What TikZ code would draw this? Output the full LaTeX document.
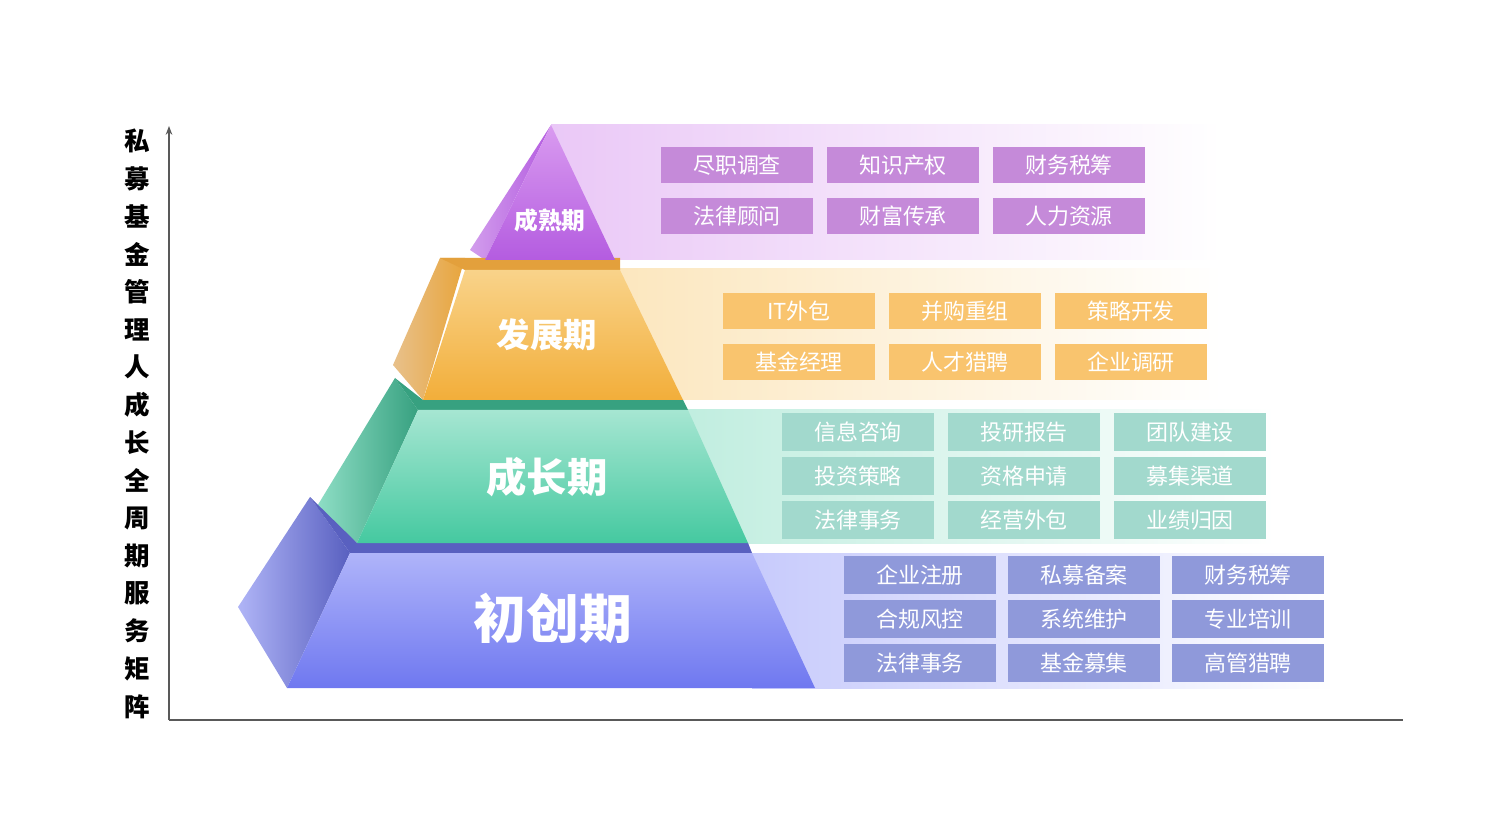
\documentclass[tikz,border=0pt]{standalone}
\usepackage{fontspec}
\newfontfamily\cjk{Noto Sans CJK SC}
\usetikzlibrary{arrows.meta,positioning}
\definecolor{purA}{HTML}{B45CE0}\definecolor{purB}{HTML}{D99BF0}\definecolor{purBox}{HTML}{C58AD9}
\definecolor{oraA}{HTML}{F2AE3A}\definecolor{oraB}{HTML}{F9D38A}\definecolor{oraBox}{HTML}{F9C46E}
\definecolor{grnA}{HTML}{45C9A0}\definecolor{grnB}{HTML}{A6E6D2}\definecolor{grnBox}{HTML}{A2D9CD}
\definecolor{bluA}{HTML}{6F78F0}\definecolor{bluB}{HTML}{AFB4FA}\definecolor{bluBox}{HTML}{8F99DA}
\begin{document}
\begin{tikzpicture}[x=0.02cm,y=-0.02cm,
  cell/.style={minimum width=152\pgflinewidth*0+86pt,minimum height=21pt,inner sep=0pt,
    text=white,font=\cjk\fontsize{12.5}{13}\selectfont},
  lvl/.style={text=white,font=\cjk\bfseries}]
\useasboundingbox (0,0) rectangle (1500,837);

% axes
\draw[gray!70!black,line width=1.2pt,-{Stealth[length=5pt]}] (169,720) coordinate (o) -- (169,126);
\draw[gray!70!black,line width=1.2pt] (o) -- (1403,720);
\foreach \c [count=\i from 0] in {私,募,基,金,管,理,人,成,长,全,周,期,服,务,矩,阵}
  \node[font=\cjk\bfseries\fontsize{14.5}{15}\selectfont] at (137,{141+\i*37.7}) {\c};

% bands
\shade[left color=purB!55,right color=white] (551,125) rectangle (1222,260);
\shade[left color=oraB!55,right color=white] (620,269) rectangle (1222,400);
\shade[left color=grnB!70,right color=white] (688,410) rectangle (1275,543);
\shade[left color=bluB!70,right color=white] (752,553) rectangle (1335,688);

% pyramid: side faces
\shade[left color=purA!60,right color=purA] (551,125) -- (470,250) -- (485,260) -- cycle;
\shade[left color=oraA!50!brown!60,right color=oraA!80!brown] (465,258) -- (440,258) -- (393,365) -- (423,400) -- cycle;
\shade[left color=grnA!60,right color=grnA!80!black] (418,410) -- (395,378) -- (316,508) -- (357,543) -- cycle;
\shade[left color=bluA!55,right color=bluA!80!black] (350,553) -- (310,497) -- (238,607) -- (287,688) -- cycle;
% top strips
\fill[oraA!70!brown] (440,258) -- (465,258) -- (620,258) -- (620,270) -- (465,270) -- cycle;
\fill[grnA!80!black] (395,378) -- (418,410) -- (688,410) -- (683,400) -- (423,400) -- cycle;
\fill[bluA!80!black] (310,497) -- (350,553) -- (752,553) -- (748,543) -- (357,543) -- cycle;
% front faces
\shade[top color=purB,bottom color=purA] (551,125) -- (615,260) -- (485,260) -- cycle;
\shade[top color=oraB,bottom color=oraA] (465,270) -- (620,270) -- (683,400) -- (423,400) -- cycle;
\shade[top color=grnB,bottom color=grnA] (418,410) -- (688,410) -- (748,543) -- (357,543) -- cycle;
\shade[top color=bluB,bottom color=bluA] (350,553) -- (752,553) -- (815,688) -- (287,688) -- cycle;

\node[lvl,font=\cjk\bfseries\fontsize{13.5}{14}\selectfont] (mature) at (550,220) {成熟期};
\node[lvl,font=\cjk\bfseries\fontsize{19}{20}\selectfont] (develop) at (547,335) {发展期};
\node[lvl,font=\cjk\bfseries\fontsize{23}{24}\selectfont] (growth) at (547,477) {成长期};
\node[lvl,font=\cjk\bfseries\fontsize{30}{31}\selectfont] (startup) at (553,618) {初创期};

% service cells
\foreach \t [count=\i from 0] in {尽职调查,知识产权,财务税筹,法律顾问,财富传承,人力资源}
  \node[cell,fill=purBox,minimum height=21pt] at ({737+mod(\i,3)*166},{165+int(\i/3)*51}) {\t};
\foreach \t [count=\i from 0] in {IT外包,并购重组,策略开发,基金经理,人才猎聘,企业调研}
  \node[cell,fill=oraBox,minimum height=21pt] at ({799+mod(\i,3)*166},{311+int(\i/3)*51}) {\t};
\foreach \t [count=\i from 0] in {信息咨询,投研报告,团队建设,投资策略,资格申请,募集渠道,法律事务,经营外包,业绩归因}
  \node[cell,fill=grnBox,minimum height=22pt] at ({858+mod(\i,3)*166},{432+int(\i/3)*44}) {\t};
\foreach \t [count=\i from 0] in {企业注册,私募备案,财务税筹,合规风控,系统维护,专业培训,法律事务,基金募集,高管猎聘}
  \node[cell,fill=bluBox,minimum height=22pt] at ({920+mod(\i,3)*164},{575+int(\i/3)*44}) {\t};
\end{tikzpicture}
\end{document}
